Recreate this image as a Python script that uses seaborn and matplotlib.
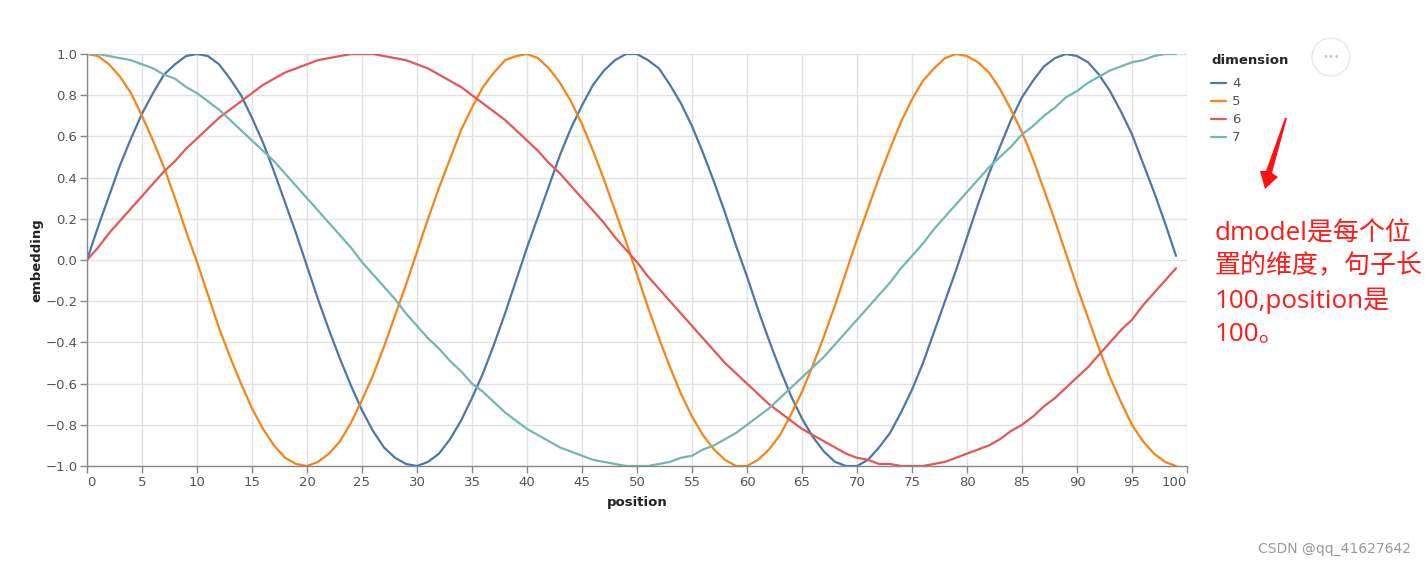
import pandas as pd
import matplotlib.pyplot as plt
import seaborn as sns
from matplotlib.patches import Ellipse, Polygon

# data (position 0..99)
position = list(range(100))

dim_4 = [0.00, 0.16, 0.31, 0.46, 0.59, 0.71, 0.81, 0.90, 0.95, 0.99,
         1.00, 0.99, 0.95, 0.88, 0.80, 0.69, 0.57, 0.43, 0.28, 0.13,
         -0.03, -0.19, -0.34, -0.48, -0.61, -0.73, -0.83, -0.91, -0.96, -0.99,
         -1.00, -0.98, -0.94, -0.87, -0.78, -0.67, -0.55, -0.41, -0.26, -0.10,
         0.06, 0.21, 0.36, 0.51, 0.64, 0.75, 0.85, 0.92, 0.97, 1.00,
         1.00, 0.97, 0.93, 0.85, 0.76, 0.65, 0.52, 0.38, 0.23, 0.07,
         -0.08, -0.24, -0.39, -0.53, -0.66, -0.77, -0.86, -0.93, -0.98, -1.00,
         -1.00, -0.97, -0.91, -0.84, -0.74, -0.63, -0.50, -0.35, -0.20, -0.05,
         0.11, 0.27, 0.42, 0.55, 0.68, 0.79, 0.87, 0.94, 0.98, 1.00,
         0.99, 0.96, 0.90, 0.82, 0.72, 0.61, 0.47, 0.33, 0.18, 0.02]

dim_5 = [1.00, 0.99, 0.95, 0.89, 0.81, 0.70, 0.58, 0.45, 0.30, 0.14,
         -0.01, -0.17, -0.33, -0.47, -0.60, -0.72, -0.82, -0.90, -0.96, -0.99,
         -1.00, -0.98, -0.94, -0.88, -0.79, -0.68, -0.56, -0.42, -0.27, -0.12,
         0.04, 0.20, 0.35, 0.49, 0.63, 0.74, 0.84, 0.91, 0.97, 0.99,
         1.00, 0.98, 0.93, 0.86, 0.77, 0.66, 0.53, 0.39, 0.24, 0.09,
         -0.07, -0.23, -0.38, -0.52, -0.65, -0.76, -0.85, -0.92, -0.97, -1.00,
         -1.00, -0.97, -0.92, -0.85, -0.75, -0.64, -0.51, -0.37, -0.22, -0.06,
         0.10, 0.25, 0.40, 0.54, 0.67, 0.78, 0.87, 0.93, 0.98, 1.00,
         0.99, 0.96, 0.91, 0.83, 0.73, 0.62, 0.49, 0.34, 0.19, 0.03,
         -0.13, -0.28, -0.43, -0.57, -0.69, -0.80, -0.88, -0.94, -0.98, -1.00]

dim_6 = [0.00, 0.06, 0.13, 0.19, 0.25, 0.31, 0.37, 0.43, 0.48, 0.54,
         0.59, 0.64, 0.69, 0.73, 0.77, 0.81, 0.85, 0.88, 0.91, 0.93,
         0.95, 0.97, 0.98, 0.99, 1.00, 1.00, 1.00, 0.99, 0.98, 0.97,
         0.95, 0.93, 0.90, 0.87, 0.84, 0.80, 0.76, 0.72, 0.68, 0.63,
         0.58, 0.53, 0.47, 0.42, 0.36, 0.30, 0.24, 0.18, 0.11, 0.05,
         -0.01, -0.08, -0.14, -0.20, -0.26, -0.32, -0.38, -0.44, -0.50, -0.55,
         -0.60, -0.65, -0.70, -0.74, -0.78, -0.82, -0.85, -0.88, -0.91, -0.94,
         -0.96, -0.97, -0.99, -0.99, -1.00, -1.00, -1.00, -0.99, -0.98, -0.96,
         -0.94, -0.92, -0.90, -0.87, -0.83, -0.80, -0.76, -0.71, -0.67, -0.62,
         -0.57, -0.52, -0.46, -0.40, -0.34, -0.29, -0.22, -0.16, -0.10, -0.04]

dim_7 = [1.00, 1.00, 0.99, 0.98, 0.97, 0.95, 0.93, 0.90, 0.88, 0.84,
         0.81, 0.77, 0.73, 0.68, 0.63, 0.58, 0.53, 0.48, 0.42, 0.36,
         0.30, 0.24, 0.18, 0.12, 0.06, -0.01, -0.07, -0.13, -0.19, -0.26,
         -0.32, -0.38, -0.43, -0.49, -0.54, -0.60, -0.64, -0.69, -0.74, -0.78,
         -0.82, -0.85, -0.88, -0.91, -0.93, -0.95, -0.97, -0.98, -0.99, -1.00,
         -1.00, -1.00, -0.99, -0.98, -0.96, -0.95, -0.92, -0.90, -0.87, -0.84,
         -0.80, -0.76, -0.72, -0.67, -0.62, -0.57, -0.52, -0.47, -0.41, -0.35,
         -0.29, -0.23, -0.17, -0.11, -0.04, 0.02, 0.08, 0.15, 0.21, 0.27,
         0.33, 0.39, 0.45, 0.50, 0.55, 0.61, 0.65, 0.70, 0.74, 0.79,
         0.82, 0.86, 0.89, 0.92, 0.94, 0.96, 0.97, 0.99, 1.00, 1.00]

dimensions = ["4", "5", "6", "7"]
colors = ["#4c78a8", "#f58518", "#e45756", "#72b7b2"]

x_ticks = list(range(0, 101, 5))
y_ticks = [-1.0, -0.8, -0.6, -0.4, -0.2, 0.0, 0.2, 0.4, 0.6, 0.8, 1.0]

note_text = "dmodel是每个位\n置的维度，句子长\n100,position是\n100。"
watermark = "CSDN @qq_41627642"

# build long table
df = pd.DataFrame({
    "position": position * 4,
    "embedding": dim_4 + dim_5 + dim_6 + dim_7,
    "dimension": [d for d in dimensions for _ in position],
})

sns.set_theme(style="white")
plt.rcParams["font.family"] = ["DejaVu Sans", "Noto Sans CJK SC"]

W, H = 1426, 567
fig = plt.figure(figsize=(W / 100, H / 100), dpi=100)
ax = fig.add_axes([87 / W, 1 - 466 / H, 1100 / W, 412 / H])

sns.lineplot(data=df, x="position", y="embedding", hue="dimension",
             palette=dict(zip(dimensions, colors)), linewidth=1.6, ax=ax)

ax.set_xlim(0, 100)
ax.set_ylim(-1, 1)
ax.set_xticks(x_ticks)
ax.set_yticks(y_ticks)
ax.set_yticklabels([f"{v:.1f}".replace("-", "\u2212") for v in y_ticks])
ax.grid(True, color="#e2e2e2", linewidth=1)
ax.set_axisbelow(True)
for s in ["top", "right"]:
    ax.spines[s].set_visible(False)
for s in ["left", "bottom"]:
    ax.spines[s].set_color("#888888")
    ax.spines[s].set_linewidth(1)
ax.tick_params(axis="both", length=5, width=1, color="#888888",
               labelcolor="#555555", labelsize=9.5, pad=2, bottom=True, left=True)
xl = ax.get_xticklabels()
xl[0].set_horizontalalignment("left")
xl[-1].set_horizontalalignment("right")

ax.set_xlabel("position", fontsize=9.5, fontweight="bold", color="#222222", labelpad=5)
ax.set_ylabel("embedding", fontsize=9.5, fontweight="bold", color="#222222", labelpad=1)

leg = ax.legend(title="dimension", loc="upper left", bbox_to_anchor=(1211 / W, 1 - 54 / H),
                bbox_transform=fig.transFigure, frameon=False, fontsize=9.5,
                title_fontsize=9.5, handlelength=1.1, handletextpad=0.5,
                labelspacing=0.38, borderaxespad=0, borderpad=0)
leg.get_title().set_fontweight("bold")
leg._legend_box.align = "left"
leg._legend_box.sep = 7.5  # a bit more room under the title
for t in leg.get_texts():
    t.set_color("#555555")

# "..." menu button
fig.patches.append(Ellipse((1331 / W, 1 - 57 / H), 38 / W, 38 / H, transform=fig.transFigure,
                           facecolor="white", edgecolor="#e8e8e8", linewidth=1))
fig.text(1331 / W, 1 - 57 / H, "•••", color="#c8c8c8", fontsize=7,
         ha="center", va="center")

# red arrow (pixel outline) + note
arrow_px = [(1287, 118), (1272, 173), (1278, 177), (1265, 189),
            (1260, 171), (1266, 171), (1285, 118)]
fig.patches.append(Polygon([(x / W, 1 - y / H) for x, y in arrow_px],
                           closed=True, transform=fig.transFigure,
                           facecolor="#ff1010", edgecolor="none"))
fig.text(1215 / W, 1 - 221 / H, note_text, color="#ff1a1a", fontsize=18.7,
         ha="left", va="top", linespacing=1.42,
         family=["Open Sans", "Noto Sans CJK SC"])

fig.text(1411 / W, 1 - 549 / H, watermark, color="#9a9a9a", fontsize=10,
         ha="right", va="center")

fig.savefig("out.png", dpi=100)
